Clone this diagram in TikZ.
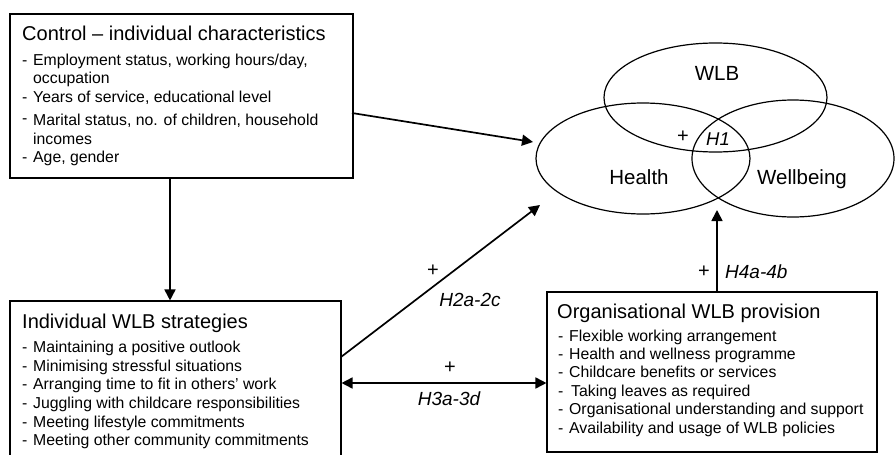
\documentclass[tikz,border=0pt]{standalone}
\usepackage{fontspec}
\setmainfont{Liberation Sans}
\usetikzlibrary{arrows.meta,shapes.geometric}
\tikzset{
  box/.style={draw, line width=1.1pt, rectangle, inner sep=0pt},
  venn/.style={draw, line width=1.2pt, ellipse, inner sep=0pt},
  title/.style={inner sep=0pt, anchor=base west, font=\fontsize{20}{24}\selectfont},
  item/.style={inner sep=0pt, anchor=base west, font=\fontsize{15.8}{19}\selectfont},
  vlabel/.style={inner sep=0pt, anchor=base, font=\fontsize{20.5}{24}\selectfont},
  hyp/.style={inner sep=0pt, anchor=base, font=\fontsize{19}{23}\selectfont\itshape},
  plus/.style={inner sep=0pt, font=\fontsize{20}{24}\selectfont},
  arr/.style={line width=1.7pt, -{Triangle[length=11pt,width=11pt]}},
  darr/.style={line width=1.7pt, {Triangle[length=11pt,width=11pt]}-{Triangle[length=11pt,width=11pt]}},
}
\newcommand{\dsh}{\makebox[11pt][l]{-}}
\begin{document}
\begin{tikzpicture}[x=1pt,y=-1pt]
\useasboundingbox (0,0) rectangle (895,455);
\begin{scope}
\clip (0,0) rectangle (895,455);
% boxes
\node[box, minimum width=343pt, minimum height=164pt] (ctrl) at (181.5,96) {};
\node[box, minimum width=331pt, minimum height=175pt] (indiv) at (175.5,388.5) {};
\node[box, minimum width=330pt, minimum height=160pt] (org) at (712,372) {};
% ellipses
\node[venn, minimum width=223pt, minimum height=109pt] (wlb) at (715.5,97.5) {};
\node[venn, minimum width=214pt, minimum height=111pt] (health) at (643,158.5) {};
\node[venn, minimum width=202pt, minimum height=117pt] (well) at (793,158.5) {};
\node[vlabel] (wlbt) at (717,80) {WLB};
\node[vlabel] (healtht) at (639,184) {Health};
\node[vlabel] (wellt) at (802,184) {Wellbeing};
\node[plus] (p1) at (683,137) {+};
\node[inner sep=0pt, anchor=base west, font=\fontsize{18.5}{22}\selectfont\itshape] (h1) at (706,145) {H1};
% control text
\node[title] (ct) at (22,40) {Control – individual characteristics};
\node[item] (c1) at (22,65) {\dsh Employment status, working hours/day,};
\node[item] (c1b) at (33,83) {occupation};
\node[item] (c2) at (22,102) {\dsh Years of service, educational level};
\node[item] (c3) at (22,125) {\raisebox{2pt}{\dsh}Marital status, no. of children, household};
\node[item] (c3b) at (33,144) {incomes};
\node[item] (c4) at (22,162) {\dsh Age, gender};
% individual text
\node[title] (it) at (22,328) {Individual WLB strategies};
\node[item] (i1) at (22,352) {\dsh Maintaining a positive outlook};
\node[item] (i2) at (22,371) {\dsh Minimising stressful situations};
\node[item] (i3) at (22,389) {\dsh Arranging time to fit in others’ work};
\node[item] (i4) at (22,408) {\dsh Juggling with childcare responsibilities};
\node[item] (i5) at (22,427) {\dsh Meeting lifestyle commitments};
\node[item] (i6) at (22,445) {\dsh Meeting other community commitments};
% org text
\node[title] (ot) at (557,318) {Organisational WLB provision};
\node[item] (o1) at (558,341) {\dsh Flexible working arrangement};
\node[item] (o2) at (558,359) {\dsh Health and wellness programme};
\node[item] (o3) at (558,377) {\dsh Childcare benefits or services};
\node[item] (o4) at (558,396) {\dsh\hspace{2pt}Taking leaves as required};
\node[item] (o5) at (558,414) {\dsh Organisational understanding and support};
\node[item] (o6) at (558,433) {\dsh Availability and usage of WLB policies};
% connector ends
\coordinate (a1s) at (352,113);
\coordinate (a1e) at (533,142);
\coordinate (a3s) at (341,357);
\coordinate (a3e) at (540,205);
\coordinate (a5e) at (717,210);
% connectors
\draw[arr] (a1s) -- (a1e);
\draw[arr] (ctrl.south -| 170,0) -- (indiv.north -| 170,0);
\draw[arr] (a3s) -- (a3e);
\draw[darr] (indiv.east |- 0,383) -- (org.west |- 0,383);
\draw[arr] (org.north -| 717,0) -- (a5e);
% hypothesis labels
\node[plus] (p2) at (433,271) {+};
\node[hyp] (h2) at (470,306) {H2a-2c};
\node[plus] (p3) at (450,368) {+};
\node[hyp] (h3) at (449,405) {H3a-3d};
\node[plus] (p4) at (704,272) {+};
\node[inner sep=0pt, anchor=base west, font=\fontsize{19}{23}\selectfont\itshape] (h4) at (725,278) {H4a-4b};
\end{scope}
\end{tikzpicture}
\end{document}
